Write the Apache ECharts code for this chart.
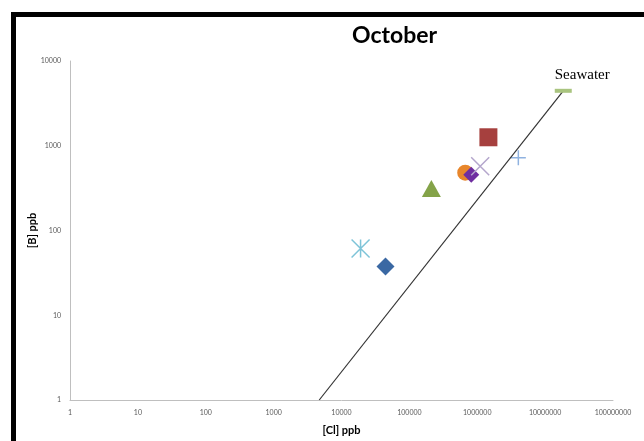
<!doctype html>
<html>
<head>
    <meta charset="utf-8">
    <title>October</title>
    <script src="https://cdn.jsdelivr.net/npm/echarts@6/dist/echarts.min.js"></script>
    <style>
        html, body { margin: 0; padding: 0; background: #fff; }
        #chart { width: 644px; height: 441px; }
    </style>
</head>
<body>
<div id="chart"></div>
<script type="text/javascript">

    // [Cl] ppb, [B] ppb for each site (October)
    var siteNames = ['Site 1', 'Site 2', 'Site 3', 'Site 4', 'Site 5', 'Site 6', 'Site 7', 'Site 8'];
    var chloride  = [44500, 19100, 211000, 665000, 815000, 1105000, 1460000, 4030000];
    var boron     = [37.7, 61.4, 312, 481, 456, 574, 1259, 722];

    // seawater reference and mixing line
    var seawater  = [18500000, 4450];
    var mixLineCl = [4700, 18500000];
    var mixLineB  = [1, 4450];

    var xTicks = [1, 10, 100, 1000, 10000, 100000, 1000000, 10000000, 100000000];
    var yTicks = [1, 10, 100, 1000, 10000];

    var symbols = [
        'diamond',
        'path://M0,0L10,10M10,0L0,10M5,0L5,10',
        'triangle',
        'circle',
        'diamond',
        'path://M0,0L10,10M10,0L0,10',
        'rect',
        'path://M5,0L5,10M0,5L10,5'
    ];
    var colors  = ['#3A68A3', '#7EC4D8', '#84A349', '#E8862B', '#6F2EA0', '#B4A6CC', '#A6403E', '#8FB2E0'];
    var sizes   = [18, 18, [19, 17], 16, 16, 18, 18, 15];
    var hollow  = [false, true, false, false, false, true, false, true];

    var series = [];
    for (var i = 0; i < siteNames.length; i++) {
        series.push({
            name: siteNames[i],
            type: 'scatter',
            data: [[chloride[i], boron[i]]],
            symbol: symbols[i],
            symbolSize: sizes[i],
            itemStyle: hollow[i]
                ? { color: 'transparent', borderColor: colors[i], borderWidth: 1.5, opacity: 1 }
                : { color: colors[i], opacity: 1 },
            z: 3
        });
    }

    series.push({
        name: 'mixing',
        type: 'line',
        data: [[mixLineCl[0], mixLineB[0]], [mixLineCl[1], mixLineB[1]]],
        showSymbol: false,
        symbol: 'none',
        lineStyle: { color: '#333', width: 1.2 },
        z: 4
    });

    series.push({
        name: 'Seawater',
        type: 'scatter',
        data: [seawater],
        symbol: 'rect',
        symbolSize: [17, 4],
        itemStyle: { color: '#A9C47F', opacity: 1 },
        label: {
            show: true,
            position: 'top',
            offset: [19, -1],
            formatter: 'Seawater',
            fontFamily: 'Liberation Serif',
            fontSize: 15,
            color: '#000'
        },
        z: 5
    });

    var tickLabel = {
        fontFamily: 'Lato',
        fontSize: 7,
        color: '#595959',
        formatter: function (v) { return String(Math.round(v)); }
    };

    var myChart = echarts.init(document.getElementById('chart'));
    var option = {
        animation: false,
        backgroundColor: '#fff',
        title: {
            text: 'October',
            left: 347,
            top: 19,
            textStyle: { fontFamily: 'Lato', fontSize: 23, fontWeight: 'bold', color: '#000' }
        },
        grid: { left: 70, right: 31, top: 61, bottom: 40 },
        xAxis: {
            type: 'log',
            logBase: 10,
            min: xTicks[0],
            max: xTicks[xTicks.length - 1],
            name: '[Cl] ppb',
            nameLocation: 'middle',
            nameGap: 25,
            nameMoveOverlap: false,
            nameTextStyle: { fontFamily: 'Lato', fontSize: 11, fontWeight: 'bold', color: '#000' },
            axisLine: { lineStyle: { color: '#BFBFBF', width: 1 } },
            axisTick: { show: false },
            splitLine: { show: false },
            minorTick: { show: false },
            axisLabel: Object.assign({ margin: 9 }, tickLabel)
        },
        yAxis: {
            type: 'log',
            logBase: 10,
            min: yTicks[0],
            max: yTicks[yTicks.length - 1],
            name: '[B] ppb',
            nameLocation: 'middle',
            nameGap: 32,
            nameRotate: 90,
            nameMoveOverlap: false,
            nameTextStyle: { fontFamily: 'Lato', fontSize: 11, fontWeight: 'bold', color: '#000' },
            axisLine: { show: true, lineStyle: { color: '#BFBFBF', width: 1 } },
            axisTick: { show: false },
            splitLine: { show: false },
            minorTick: { show: false },
            axisLabel: Object.assign({ margin: 9 }, tickLabel)
        },
        graphic: [
            { type: 'rect', shape: { x: 11, y: 12, width: 633, height: 5 }, style: { fill: '#000' } },
            { type: 'rect', shape: { x: 11, y: 12, width: 5, height: 429 }, style: { fill: '#000' } }
        ],
        series: series
    };
    myChart.setOption(option);

</script>
</body>
</html>
